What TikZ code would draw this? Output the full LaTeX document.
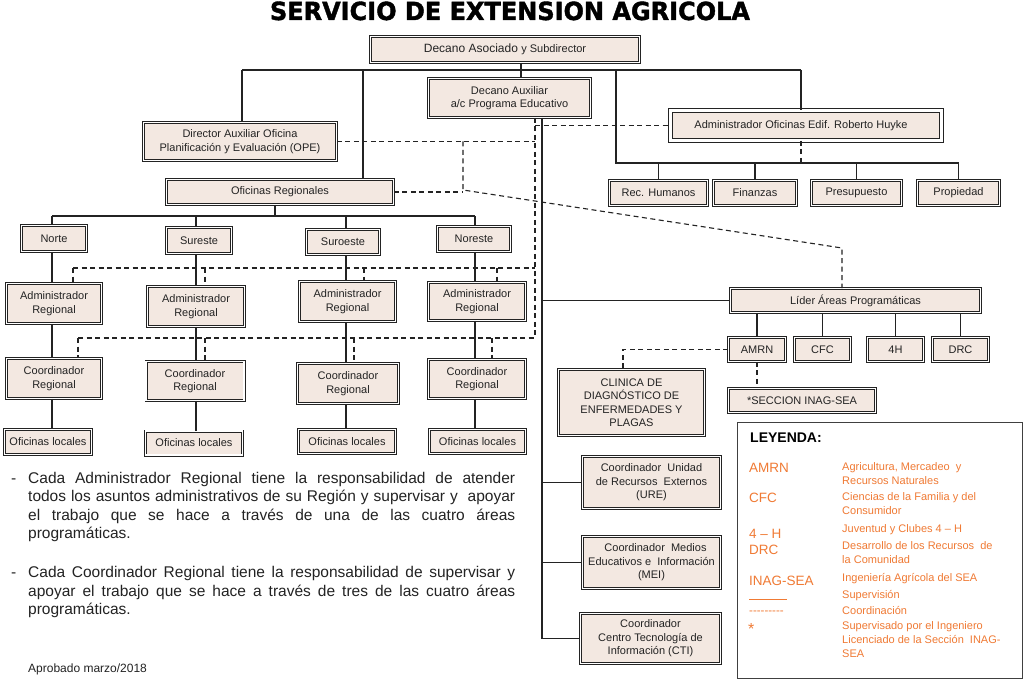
\documentclass[tikz,border=0pt]{standalone}
\usepackage{fontspec}
\setmainfont{Liberation Sans}
\newfontfamily\titlefont[BoldFeatures={FakeBold=1.6}]{DejaVu Sans}
\definecolor{boxfill}{RGB}{243,232,225}
\definecolor{legor}{RGB}{240,122,52}
\definecolor{ink}{RGB}{35,35,35}
\begin{document}
\begin{tikzpicture}[x=1pt,y=-1pt,
  box/.style={draw=ink, line width=0.8pt, double=white, double distance=1.4pt, fill=boxfill, inner sep=1pt, align=center, font=\fontsize{11}{13.5}\selectfont, text=ink},
  supline/.style={draw=ink, line width=1.1pt},
  coordline/.style={draw=ink, line width=1.1pt, dash pattern=on 5pt off 3.5pt},
  legl/.style={anchor=base west, inner sep=0, text=legor, font=\fontsize{13.5}{15}\selectfont},
  legr/.style={anchor=base west, inner sep=0, text=legor, font=\fontsize{11}{13}\selectfont},
  para/.style={anchor=base west, inner sep=0, text=ink, font=\fontsize{15.5}{18}\selectfont},
]
\fill[white] (0,0) rectangle (1024,687);
\useasboundingbox (0,0) rectangle (1024,687);

% title
\node[anchor=base, inner sep=0, text=black] (title) at (510,20) {\resizebox{480pt}{18.5pt}{\titlefont\bfseries SERVICIO DE EXTENSION AGRICOLA}};

% top boxes
\node[box, minimum width=269, minimum height=26] (dasoc) at (505,49.5) {\raisebox{-4pt}{\fontsize{12}{14}\selectfont Decano Asociado \fontsize{11}{13}\selectfont y Subdirector}};
\node[box, minimum width=162, minimum height=39] (daux) at (509.5,98) {Decano Auxiliar\\a/c Programa Educativo};
\node[box, minimum width=193, minimum height=38] (ope) at (240,141.5) {Director Auxiliar Oficina\\Planificación y Evaluación (OPE)};
\node[box, minimum width=227, minimum height=25] (ofreg) at (280,192) {Oficinas Regionales};
\node[box, line width=0.7pt, double distance=3.6pt, minimum width=271, minimum height=30] (admof) at (806,125.5) {Administrador Oficinas Edif. Roberto Huyke\hspace*{10pt}};
\node[box, minimum width=98, minimum height=25] (rech) at (658.5,193) {Rec. Humanos};
\node[box, minimum width=83, minimum height=25] (fin) at (755,193) {Finanzas};
\node[box, minimum width=90, minimum height=25] (pres) at (856.5,193) {Presupuesto};
\node[box, minimum width=82, minimum height=25] (prop) at (958.5,193) {Propiedad};

% regions
\node[box, minimum width=65, minimum height=26] (norte) at (54,238.5) {Norte};
\node[box, minimum width=65, minimum height=26] (sureste) at (199,240.5) {Sureste};
\node[box, minimum width=73, minimum height=25] (suroeste) at (343,242) {Suroeste};
\node[box, minimum width=73, minimum height=25] (noreste) at (474,239) {Noreste};

\node[box, minimum width=95, minimum height=40] (ar1) at (54,303.5) {Administrador\\Regional};
\node[box, minimum width=97, minimum height=40] (ar2) at (196,306.5) {Administrador\\Regional};
\node[box, minimum width=96, minimum height=40] (ar3) at (347.5,301.5) {Administrador\\Regional};
\node[box, minimum width=97, minimum height=38] (ar4) at (477,301.5) {Administrador\\Regional};

\node[box, minimum width=95, minimum height=40] (cr1) at (54,378.5) {Coordinador\\Regional};
\node[box, minimum width=98, minimum height=39] (cr2) at (195,381) {Coordinador\\Regional};
\node[box, minimum width=101, minimum height=40] (cr3) at (348,383.5) {Coordinador\\Regional};
\node[box, minimum width=97, minimum height=39] (cr4) at (477,379) {Coordinador\\Regional};

\node[box, minimum width=87, minimum height=25] (ol1) at (48,442) {Oficinas locales};
\node[box, minimum width=97, minimum height=24] (ol2) at (194,443) {Oficinas locales};
\node[box, minimum width=97, minimum height=24] (ol3) at (347,441.5) {Oficinas locales};
\node[box, minimum width=96, minimum height=24] (ol4) at (477.5,441.5) {Oficinas locales};

% right side
\node[box, minimum width=250, minimum height=24] (lider) at (855.5,300.5) {Líder Áreas Programáticas};
\node[box, minimum width=57, minimum height=24] (amrn) at (757,349.5) {AMRN};
\node[box, minimum width=56, minimum height=24] (cfc) at (822.5,349.5) {CFC};
\node[box, minimum width=56, minimum height=24] (h4) at (895.5,349.5) {4H};
\node[box, minimum width=56, minimum height=24] (drc) at (960.5,349.5) {DRC};
\node[box, minimum width=147, minimum height=24] (inag) at (802,400.5) {*SECCION INAG-SEA};
\node[box, minimum width=146, minimum height=66] (clin) at (631.5,402.5) {CLINICA DE\\DIAGNÓSTICO DE\\ENFERMEDADES Y\\PLAGAS};
\node[box, minimum width=138, minimum height=52] (ure) at (651.5,482.5) {Coordinador\ \ Unidad\\de Recursos\ \ Externos\\(URE)};
\node[box, minimum width=138, minimum height=52] (mei) at (651.5,562.5) {\hspace*{8pt}Coordinador\ \ Medios\\Educativos e\ \ Información\\(MEI)};
\node[box, minimum width=140, minimum height=50] (cti) at (650.5,638.5) {Coordinador\\Centro Tecnología de\\Información (CTI)};

% ---------- solid connectors ----------
\coordinate (t1) at (242,70);
\coordinate (t2) at (363,70);
\coordinate (t3) at (616,70);
\coordinate (t4) at (801,70);
\coordinate (dd) at (521,70);
\coordinate (t5) at (616,163);
\coordinate (t6) at (958.5,163);
\draw[supline] (t1) -- (t4);
\draw[supline] (dd |- dasoc.south) -- (dd |- daux.north);
\draw[supline] (t1) -- (t1 |- ope.north);
\draw[supline] (t2) -- (t2 |- ofreg.north);
\draw[supline] (t4) -- (t4 |- admof.north);
\draw[supline] (t3) -- (t5) -- (t6);
\draw[supline] (rech.north |- t5) -- (rech.north);
\draw[supline] (fin.north |- t5) -- (fin.north);
\draw[supline] (pres.north |- t5) -- (pres.north);
\draw[supline] (prop.north |- t5) -- (prop.north);

\coordinate (rb) at (275,216);
\coordinate (k1) at (52,216);
\coordinate (k2) at (196,216);
\coordinate (k3) at (346,216);
\coordinate (k4) at (475,216);
\draw[supline] (rb |- ofreg.south) -- (rb);
\draw[supline] (k1) -- (k4);
\foreach \k/\r/\a/\c/\o in {k1/norte/ar1/cr1/ol1, k2/sureste/ar2/cr2/ol2, k3/suroeste/ar3/cr3/ol3, k4/noreste/ar4/cr4/ol4}{
  \draw[supline] (\k) -- (\k |- \r.north);
  \draw[supline] (\k |- \r.south) -- (\k |- \a.north);
  \draw[supline] (\k |- \a.south) -- (\k |- \c.north);
  \draw[supline] (\k |- \c.south) -- (\k |- \o.north);
}

\coordinate (vr) at (542,0);
\draw[supline] (vr |- daux.south) -- (vr |- cti.west) -- (cti.west);
\draw[supline] (vr |- lider.west) -- (lider.west);
\draw[supline] (vr |- ure.west) -- (ure.west);
\draw[supline] (vr |- mei.west) -- (mei.west);
\draw[supline] (amrn.north |- lider.south) -- (amrn.north);
\draw[supline] (cfc.north |- lider.south) -- (cfc.north);
\draw[supline] (h4.north |- lider.south) -- (h4.north);
\draw[supline] (drc.north |- lider.south) -- (drc.north);

% ---------- dashed connectors ----------
\coordinate (vd) at (535,0);
\coordinate (a1) at (73,268);
\coordinate (a2) at (205,268);
\coordinate (a3) at (364,268);
\coordinate (a4) at (497,268);
\coordinate (a5) at (535,268);
\coordinate (b1) at (78,338);
\coordinate (b2) at (205,338);
\coordinate (b3) at (354,338);
\coordinate (b4) at (492,338);
\coordinate (b5) at (535,338);
\draw[coordline] (vd |- daux.south) -- (b5);
\draw[coordline] (vd |- admof.west) -- (admof.west);
\draw[coordline] (ope.east) -- (vd |- ope.east);
\coordinate (s1) at (463,141.5);
\coordinate (s2) at (463,190);
\coordinate (s3) at (842,248);
\draw[coordline] (s1) -- (s2) -- (s3) -- (s3 |- lider.north);
\draw[coordline] (ofreg.east) -- (ofreg.east -| s2);
\draw[coordline] (a1) -- (a5);
\draw[coordline] (b1) -- (b5);
\foreach \p/\n in {a1/ar1, a2/ar2, a3/ar3, a4/ar4, b1/cr1, b2/cr2, b3/cr3, b4/cr4}{
  \draw[coordline] (\p) -- (\p |- \n.north);
}
\draw[coordline] (admof.south -| t4) -- (t4 |- t5);
\draw[coordline] (amrn.south) -- (amrn.south |- inag.north);
\coordinate (cl) at (623,0);
\draw[coordline] (amrn.west) -- (cl |- amrn.west) -- (cl |- clin.north);

% ---------- notes ----------
\node[para] (d1) at (11,483) {-};
\node[para] (p11) at (28,483) {\makebox[487pt][s]{Cada Administrador Regional tiene la responsabilidad de atender}};
\node[para] (p12) at (28,501.5) {\makebox[487pt][s]{todos los asuntos administrativos de su Región y supervisar y\ \ apoyar}};
\node[para] (p13) at (28,520) {\makebox[487pt][s]{el trabajo que se hace a través de una de las cuatro áreas}};
\node[para] (p14) at (28,538.5) {programáticas.};
\node[para] (d2) at (11,577.5) {-};
\node[para] (p21) at (28,577.5) {\makebox[487pt][s]{Cada Coordinador Regional tiene la responsabilidad de supervisar y}};
\node[para] (p22) at (28,596) {\makebox[487pt][s]{apoyar el trabajo que se hace a través de tres de las cuatro áreas}};
\node[para] (p23) at (28,614.5) {programáticas.};
\node[anchor=base west, inner sep=0, text=ink, font=\fontsize{12}{14}\selectfont] (aprob) at (28,672) {Aprobado marzo/2018};

% ---------- legend ----------
\node[draw=black!75, line width=1.2pt, minimum width=285, minimum height=256, anchor=north west, inner sep=0] (leg) at (737,422) {};
\node[anchor=base west, inner sep=0, font=\bfseries\fontsize{14}{16}\selectfont] (lt) at (750,442) {LEYENDA:};
\node[legl] (l1) at (749,472) {AMRN};
\node[legl] (l2) at (749,502) {CFC};
\node[legl] (l3) at (749,538) {4 – H};
\node[legl] (l4) at (749,554) {DRC};
\node[legl] (l5) at (749,585) {INAG-SEA};
\coordinate (ls1) at (749,599);
\coordinate (ls2) at (787,599);
\draw[legor, line width=0.8pt] (ls1) -- (ls2);
\node[legr, font=\fontsize{11.5}{13}\selectfont] (l6) at (749,614) {-{}-{}-{}-{}-{}-{}-{}-{}-};
\node[legr, font=\fontsize{16}{16}\selectfont] (l7) at (748,634) {*};
\node[legr] (r1) at (842,470) {Agricultura, Mercadeo\ \ y};
\node[legr] (r2) at (842,484) {Recursos Naturales};
\node[legr] (r3) at (842,500) {Ciencias de la Familia y del};
\node[legr] (r4) at (842,514) {Consumidor};
\node[legr] (r5) at (842,532) {Juventud y Clubes 4 – H};
\node[legr] (r6) at (842,549) {Desarrollo de los Recursos\ \ de};
\node[legr] (r7) at (842,563) {la Comunidad};
\node[legr] (r8) at (842,581) {Ingeniería Agrícola del SEA};
\node[legr] (r9) at (842,598) {Supervisión};
\node[legr] (r10) at (842,614) {Coordinación};
\node[legr] (r11) at (842,629) {Supervisado por el Ingeniero};
\node[legr] (r12) at (842,643) {Licenciado de la Sección\ \ INAG-};
\node[legr] (r13) at (842,657) {SEA};
\end{tikzpicture}
\end{document}
